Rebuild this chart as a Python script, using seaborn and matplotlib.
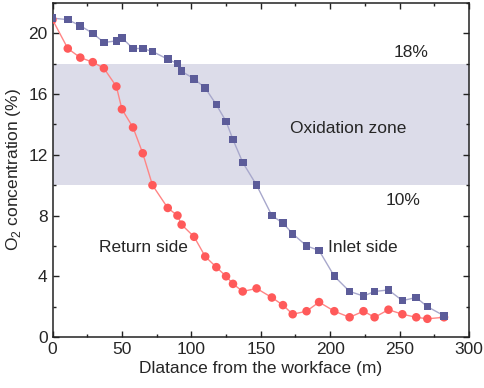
import matplotlib
matplotlib.use("Agg")
import matplotlib.pyplot as plt
import seaborn as sns
import pandas as pd
from matplotlib.ticker import MultipleLocator

distance = [0, 11, 20, 29, 37, 46, 50, 58, 65, 72, 83, 90, 93, 102, 110, 118, 125,
            130, 137, 147, 158, 166, 173, 183, 192, 203, 214, 224, 232, 242, 252,
            262, 270, 282]
return_side = [20.9, 19.0, 18.4, 18.1, 17.7, 16.5, 15.0, 13.8, 12.1, 10.0, 8.5, 8.0,
               7.4, 6.6, 5.3, 4.6, 4.0, 3.5, 3.0, 3.2, 2.6, 2.1, 1.5, 1.7, 2.3, 1.7,
               1.3, 1.7, 1.3, 1.8, 1.5, 1.3, 1.2, 1.3]
inlet_side = [21.0, 20.9, 20.5, 20.0, 19.4, 19.5, 19.7, 19.0, 19.0, 18.8, 18.3, 18.0,
              17.5, 17.0, 16.4, 15.3, 14.2, 13.0, 11.5, 10.0, 8.0, 7.5, 6.8, 6.0,
              5.7, 4.0, 3.0, 2.7, 3.0, 3.1, 2.4, 2.6, 2.0, 1.4]
zone_low, zone_high = 10, 18

sns.set_style("ticks")
plt.rcParams['font.family'] = ['Liberation Sans', 'DejaVu Sans']
plt.rcParams['mathtext.fontset'] = 'custom'
plt.rcParams['mathtext.rm'] = 'Liberation Sans'

fig = plt.figure(figsize=(4.84, 3.88), dpi=100)
ax = fig.add_axes([0.1085, 0.1314, 0.8605, 0.861])

ax.axhspan(zone_low, zone_high, color='#dcdce9', lw=0, zorder=0)

df_r = pd.DataFrame({'x': distance, 'y': return_side})
df_i = pd.DataFrame({'x': distance, 'y': inlet_side})
sns.lineplot(data=df_r, x='x', y='y', ax=ax, color='#ff8585', lw=1.0, zorder=2)
sns.lineplot(data=df_i, x='x', y='y', ax=ax, color='#a8a8cc', lw=1.0, zorder=2)
ax.scatter(distance, return_side, s=38, marker='o', color='#ff5a5a', edgecolor='none', zorder=3)
ax.scatter(distance, inlet_side, s=30, marker='s', color='#5c5c99', edgecolor='none', zorder=3)

ax.set_xlim(0, 300)
ax.set_ylim(0, 22)
ax.xaxis.set_major_locator(MultipleLocator(50))
ax.xaxis.set_minor_locator(MultipleLocator(25))
ax.yaxis.set_major_locator(MultipleLocator(4))
ax.yaxis.set_minor_locator(MultipleLocator(2))
ax.tick_params(which='both', direction='in', top=True, right=True, labelsize=12.5, color='#222222')
ax.tick_params(which='major', length=4, width=1)
ax.tick_params(which='minor', length=2.5, width=1)
for s in ax.spines.values():
    s.set_linewidth(1.1)
    s.set_color('#222222')

ax.set_xlabel('Dlatance from the workface (m)', fontsize=12.5, labelpad=3)
ax.set_ylabel('O$_2$ concentration (%)', fontsize=12.5, labelpad=4)

ax.text(258.6, 18.75, '18%', fontsize=12.5, ha='center', va='center')
ax.text(213, 13.75, 'Oxidation zone', fontsize=12.5, ha='center', va='center')
ax.text(252.6, 8.98, '10%', fontsize=12.5, ha='center', va='center')
ax.text(65.4, 5.9, 'Return side', fontsize=12.5, ha='center', va='center')
ax.text(223.8, 5.9, 'Inlet side', fontsize=12.5, ha='center', va='center')

fig.savefig('out.png', dpi=100)
